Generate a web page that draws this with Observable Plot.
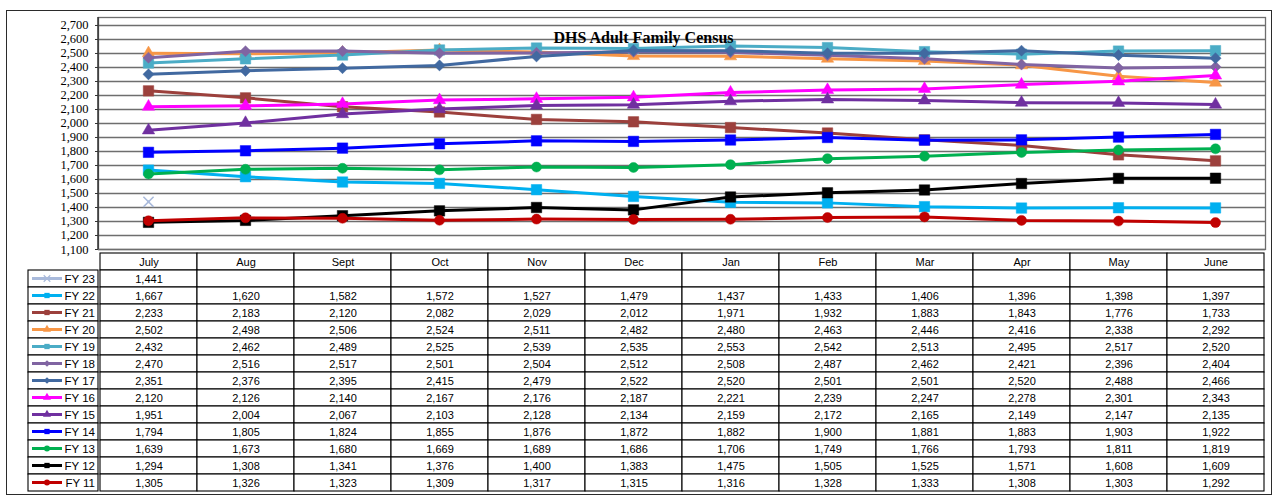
<!DOCTYPE html>
<html><head><meta charset="utf-8">
<script src="https://cdn.jsdelivr.net/npm/d3@7"></script>
<script src="https://cdn.jsdelivr.net/npm/@observablehq/plot@0.6"></script>
<style>
body{margin:0;background:#fff;}
#wrap{position:relative;width:1274px;height:498px;overflow:hidden;background:#fff;}
#wrap svg{position:absolute;left:0;background:transparent !important;overflow:visible;}
#border{position:absolute;left:6px;top:10px;width:1266px;height:485px;border:1.5px solid #2b2b2b;box-sizing:border-box;}
#title{position:absolute;left:0;width:1287px;top:28.5px;text-align:center;font:bold 16px "Liberation Serif","Times New Roman",serif;line-height:18px;color:#000;z-index:5;}
</style></head><body>
<div id="wrap"><div id="border"></div></div>
<script>
const title = "DHS Adult Family Census";
const months = ["July","Aug","Sept","Oct","Nov","Dec","Jan","Feb","Mar","Apr","May","June"];
const seriesNames = ["FY 23","FY 22","FY 21","FY 20","FY 19","FY 18","FY 17","FY 16","FY 15","FY 14","FY 13","FY 12","FY 11"];
const fy23 = [1441,null,null,null,null,null,null,null,null,null,null,null];
const fy22 = [1667,1620,1582,1572,1527,1479,1437,1433,1406,1396,1398,1397];
const fy21 = [2233,2183,2120,2082,2029,2012,1971,1932,1883,1843,1776,1733];
const fy20 = [2502,2498,2506,2524,2511,2482,2480,2463,2446,2416,2338,2292];
const fy19 = [2432,2462,2489,2525,2539,2535,2553,2542,2513,2495,2517,2520];
const fy18 = [2470,2516,2517,2501,2504,2512,2508,2487,2462,2421,2396,2404];
const fy17 = [2351,2376,2395,2415,2479,2522,2520,2501,2501,2520,2488,2466];
const fy16 = [2120,2126,2140,2167,2176,2187,2221,2239,2247,2278,2301,2343];
const fy15 = [1951,2004,2067,2103,2128,2134,2159,2172,2165,2149,2147,2135];
const fy14 = [1794,1805,1824,1855,1876,1872,1882,1900,1881,1883,1903,1922];
const fy13 = [1639,1673,1680,1669,1689,1686,1706,1749,1766,1793,1811,1819];
const fy12 = [1294,1308,1341,1376,1400,1383,1475,1505,1525,1571,1608,1609];
const fy11 = [1305,1326,1323,1309,1317,1315,1316,1328,1333,1308,1303,1292];
const yTicks = [1100,1200,1300,1400,1500,1600,1700,1800,1900,2000,2100,2200,2300,2400,2500,2600,2700];

const seriesValues = [fy23,fy22,fy21,fy20,fy19,fy18,fy17,fy16,fy15,fy14,fy13,fy12,fy11];
const seriesColors = ["#a9badb","#00b0f0","#9c403c","#f79646","#4bacc6","#8064a2","#4169a0","#ff00ff","#7030a0","#0000ff","#00b050","#000000","#c00000"];
const seriesSymbols = ["times","square","square","triangle","square","diamond2","diamond2","triangle","triangle","square","circle","square","circle"];
const symbolR = {times:4.7, square:5.9, triangle:4.6, diamond2:5.0, circle:5.0};

const fmt = d3.format(",");
const wrap = document.getElementById("wrap");

// ---------- chart ----------
const chartMarks = [
  Plot.gridY(yTicks, {stroke:"#6e6e6e", strokeOpacity:1, strokeWidth:1.3}),
  Plot.frame({stroke:"#6e6e6e", strokeWidth:1.3}),
  Plot.axisY(yTicks, {tickSize:3, tickPadding:7, tickFormat:fmt, stroke:"#333", label:null})
];
seriesNames.forEach((name, i) => {
  const rows = months.map((m, j) => ({series:name, month:m, value:seriesValues[i][j]}));
  const pts = rows.filter(d => d.value != null);
  const c = seriesColors[i], s = seriesSymbols[i];
  chartMarks.push(Plot.line(rows, {x:"month", y:"value", stroke:c, strokeWidth:3, defined: d => d.value != null}));
  if (s === "times") {
    chartMarks.push(Plot.dot(pts, {x:"month", y:"value", symbol:s, r:symbolR[s], fill:"none", stroke:c, strokeWidth:1.5}));
  } else {
    chartMarks.push(Plot.dot(pts, {x:"month", y:"value", symbol:s, r:symbolR[s], fill:c, stroke:c, strokeWidth:0.5}));
  }
});
const chart = Plot.plot({
  width:1274, height:250,
  marginLeft:98, marginRight:9, marginTop:17, marginBottom:1,
  style:{fontFamily:'"Liberation Serif","Times New Roman",serif', fontSize:"12.5px", background:"transparent", color:"#000"},
  x:{type:"point", domain:months, padding:0.5, axis:null},
  y:{domain:[1100,2757], axis:null, label:null},
  marks: chartMarks
});
chart.style.top = "0px";
wrap.appendChild(chart);
// left axis line
d3.select(chart).append("line").attr("x1",98).attr("x2",98).attr("y1",17).attr("y2",249)
  .attr("stroke","#333").attr("stroke-width",1.5);

// ---------- data table ----------
const rowKeys = ["header", ...seriesNames];
const cells = [];
months.forEach(m => cells.push({series:"header", month:m}));
seriesNames.forEach((name, i) => months.forEach((m, j) => cells.push({series:name, month:m, value:seriesValues[i][j]})));
const table = Plot.plot({
  width:1274, height:247,
  marginLeft:98, marginRight:9, marginTop:1, marginBottom:1,
  style:{fontFamily:'"Liberation Sans",Arial,sans-serif', fontSize:"11px", background:"transparent", color:"#000"},
  x:{type:"band", domain:months, padding:0, axis:null},
  y:{type:"band", domain:rowKeys, padding:0, axis:null},
  marks:[
    Plot.cell(cells, {x:"month", y:"series", fill:"white", stroke:"#000", strokeWidth:1.1, inset:0}),
    Plot.text(cells.filter(d => d.series === "header"), {x:"month", y:"series", text:"month", fill:"#000"}),
    Plot.text(cells.filter(d => d.value != null), {x:"month", y:"series", text: d => fmt(d.value), fill:"#000"})
  ]
});
table.style.top = "248px";
wrap.appendChild(table);

// legend column (keys) in the table's left margin, positioned by the table's y scale
const ys = table.scale("y");
const bw = ys.bandwidth;
const lg = d3.select(table).append("g");
seriesNames.forEach((name, i) => {
  const y0 = ys.apply(name);
  const cy = y0 + bw / 2;
  const c = seriesColors[i], s = seriesSymbols[i];
  lg.append("rect").attr("x",28).attr("y",y0).attr("width",70).attr("height",bw)
    .attr("fill","white").attr("stroke","#000").attr("stroke-width",1.1);
  lg.append("line").attr("x1",32).attr("x2",62).attr("y1",cy).attr("y2",cy)
    .attr("stroke",c).attr("stroke-width",3);
  const symMap = {times:d3.symbolTimes, square:d3.symbolSquare, triangle:d3.symbolTriangle, diamond2:d3.symbolDiamond2, circle:d3.symbolCircle};
  const p = lg.append("path").attr("transform",`translate(47,${cy})`)
    .attr("d", d3.symbol(symMap[s], s === "times" ? 30 : 28)());
  if (s === "times") p.attr("fill","none").attr("stroke",c).attr("stroke-width",1.2);
  else p.attr("fill",c);
  lg.append("text").attr("x",95).attr("y",cy).attr("dy","0.35em").attr("text-anchor","end")
    .attr("font-family",'"Liberation Sans",Arial,sans-serif').attr("font-size","11.5px").attr("fill","#000").text(name);
});

// title
const t = document.createElement("div");
t.id = "title";
t.textContent = title;
wrap.appendChild(t);
</script>
</body></html>
